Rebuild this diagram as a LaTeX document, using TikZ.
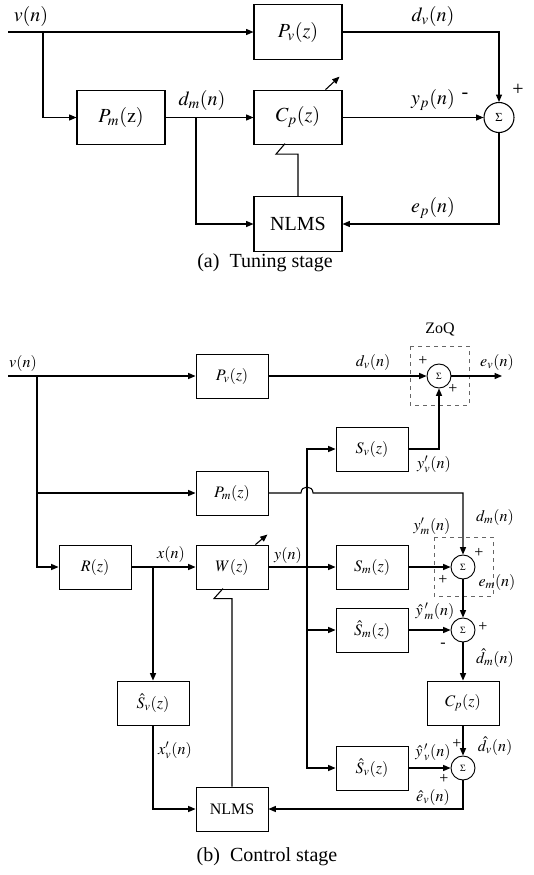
\documentclass[tikz,border=0pt]{standalone}
\usepackage{mathptmx}
\usepackage{fontspec}
\setmainfont{Liberation Serif}
\usetikzlibrary{arrows.meta, calc}

\tikzset{
  blockA/.style={draw, line width=0.8pt, minimum width=66pt, minimum height=41pt, inner sep=0pt, font=\fontsize{15}{18}\selectfont},
  blockB/.style={draw, line width=0.7pt, minimum width=54pt, minimum height=33pt, inner sep=0pt, font=\fontsize{12}{14}\selectfont},
  sumA/.style={draw, circle, line width=0.8pt, minimum size=22.5pt, inner sep=0pt, font=\fontsize{9}{10}\selectfont},
  sumB/.style={draw, circle, line width=0.7pt, minimum size=18pt, inner sep=0pt, font=\fontsize{7}{8}\selectfont},
  sig/.style={line width=0.8pt, -{Triangle[length=5.5pt,width=4.5pt]}},
  wire/.style={line width=0.8pt},
  lblA/.style={font=\fontsize{15}{18}\selectfont, inner sep=0pt},
  lblB/.style={font=\fontsize{12}{14}\selectfont, inner sep=0pt},
  zoq/.style={draw=black!60, dashed, line width=0.7pt},
}

\begin{document}
\begin{tikzpicture}[x=0.75pt, y=-0.75pt]
  \useasboundingbox (0,0) rectangle (534,875);

  % (a) Tuning stage
  \coordinate (inA) at (8,32);
  \coordinate (vbA) at (43,32);
  \node[blockA] (pvA) at (298,32) {$P_v(z)$};
  \node[blockA] (pmA) at (121,117.5) {$P_m(\mathrm{z})$};
  \node[blockA] (cpA) at (298,117.5) {$C_p(z)$};
  \node[blockA] (nlmsA) at (298,224) {NLMS};
  \node[sumA] (sA) at (499,117.5) {$\Sigma$};
  \coordinate (dmA) at (196,117.5);

  \draw[sig] (inA) -- (pvA.west);
  \draw[sig] (vbA) |- (pmA.west);
  \draw[sig] (pmA) -- (cpA);
  \draw[sig] (pvA.east) -| (sA.north);
  \draw[sig] (cpA.east) -- (sA.west);
  \draw[sig] (sA.south) |- (nlmsA.east);
  \draw[sig] (dmA) |- (nlmsA.west);
  \draw[wire] (nlmsA.north) -- ++(0,-42) -- ++(-22,0) -- ++(9,-10.5);
  \draw[sig] ($(cpA.north east)+(-17,0)$) -- ++(14,-13);

  \node[lblA] (lvA) at (31,16) {$v(n)$};
  \node[lblA] (ldvA) at (433,16) {$d_v(n)$};
  \node[lblA] (ldmA) at (202,100) {$d_m(n)$};
  \node[lblA] (lypA) at (433,100) {$y_p(n)$};
  \node[lblA] (lmiA) at (465,96) {-};
  \node[lblA] (lplA) at (518,90) {+};
  \node[lblA] (lepA) at (433,208) {$e_p(n)$};
  \node[lblA] (capA) at (265,263) {(a)\ \ Tuning stage};

  % (b) Control stage
  \coordinate (inB) at (8,376);
  \coordinate (vbB) at (37,376);
  \node[blockB] (pvB) at (232,376) {$P_v(z)$};
  \node[sumB] (sV) at (439,376) {$\Sigma$};
  \coordinate (evB) at (502,376);
  \node[blockB] (svB) at (372,449) {$S_v(z)$};
  \node[blockB] (pmB) at (232,493) {$P_m(z)$};
  \node[blockB] (rB) at (95,567) {$R(z)$};
  \node[blockB] (wB) at (232,567) {$W(z)$};
  \node[blockB] (smB) at (372,567) {$S_m(z)$};
  \node[sumB] (sM) at (463,567) {$\Sigma$};
  \node[blockB] (shmB) at (372,630) {$\hat{S}_m(z)$};
  \node[sumB] (sE) at (463,630) {$\Sigma$};
  \node[blockB] (shvL) at (153,703) {$\hat{S}_v(z)$};
  \node[blockB] (cpB) at (463,703) {$C_p(z)$};
  \node[blockB] (shvR) at (372,768) {$\hat{S}_v(z)$};
  \node[sumB] (sD) at (463,768) {$\Sigma$};
  \node[blockB] (nlmsB) at (232,809) {NLMS};
  \coordinate (xb) at (153,567);
  \coordinate (yb) at (307,567);
  \coordinate (hopL) at (301,493);
  \coordinate (hopR) at (313,493);

  \draw[zoq] (410,346) rectangle (469,405);
  \draw[zoq] (434,537) rectangle (493,596);

  \draw[sig] (inB) -- (pvB.west);
  \draw[sig] (pvB) -- (sV);
  \draw[sig] (sV) -- (evB);
  \draw[sig] (vbB) |- (pmB.west);
  \draw[sig] (vbB) |- (rB.west);
  \draw[sig] (rB) -- (wB);
  \draw[sig] (wB) -- (smB);
  \draw[sig] (smB) -- (sM);
  \draw[sig] (svB.east) -| (sV.south);
  \draw[sig] (pmB.east) -- (hopL) .. controls (301,485) and (313,485) .. (hopR) -| (sM.north);
  \draw[sig] (yb) |- (svB.west);
  \draw[sig] (yb) |- (shmB.west);
  \draw[sig] (yb) |- (shvR.west);
  \draw[sig] (sM) -- (sE);
  \draw[sig] (shmB) -- (sE);
  \draw[sig] (sE) -- (cpB);
  \draw[sig] (cpB) -- (sD);
  \draw[sig] (shvR) -- (sD);
  \draw[sig] (sD.south) |- (nlmsB.east);
  \draw[sig] (xb) -- (shvL.north);
  \draw[sig] (shvL.south) |- (nlmsB.west);
  \draw[wire] (nlmsB.north) -- ++(0,-188) -- ++(-18,0) -- ++(9,-10);
  \draw[sig] ($(wB.north east)+(-13,0)$) -- ++(12,-10);

  \node[lblB] (lvB) at (23,363) {$v(n)$};
  \node[lblB] (ldvB) at (373,362) {$d_v(n)$};
  \node[lblB] (lzoq) at (440,329) {ZoQ};
  \node[lblB] (levB) at (497,362) {$e_v(n)$};
  \node[lblB] (lp1) at (423,361) {+};
  \node[lblB] (lp2) at (453,389) {+};
  \node[lblB] (lyvB) at (434,464) {$y'_v(n)$};
  \node[lblB] (lymB) at (432,526) {$y'_m(n)$};
  \node[lblB] (ldmB) at (495,517) {$d_m(n)$};
  \node[lblB] (lp3) at (479,553) {+};
  \node[lblB] (lp4) at (443,580) {+};
  \node[lblB] (lemB) at (497,582) {$e_m(n)$};
  \node[lblB] (lxB) at (171,554) {$x(n)$};
  \node[lblB] (lyB) at (288,555) {$y(n)$};
  \node[lblB] (lhymB) at (435,611) {$\hat{y}\,'_m(n)$};
  \node[lblB] (lp5) at (483,627) {+};
  \node[lblB] (lm1) at (443,645) {-};
  \node[lblB] (lhdmB) at (495,658) {$\hat{d}_m(n)$};
  \node[lblB] (lxvB) at (175,750) {$x'_v(n)$};
  \node[lblB] (lhyvB) at (433,752) {$\hat{y}\,'_v(n)$};
  \node[lblB] (lp6) at (457,744) {+};
  \node[lblB] (lp7) at (444,779) {+};
  \node[lblB] (lhdvB) at (495,746) {$\hat{d}_v(n)$};
  \node[lblB] (lhevB) at (433,797) {$\hat{e}_v(n)$};
  \node[lblA] (capB) at (267,857) {(b)\ \ Control stage};
\end{tikzpicture}
\end{document}
